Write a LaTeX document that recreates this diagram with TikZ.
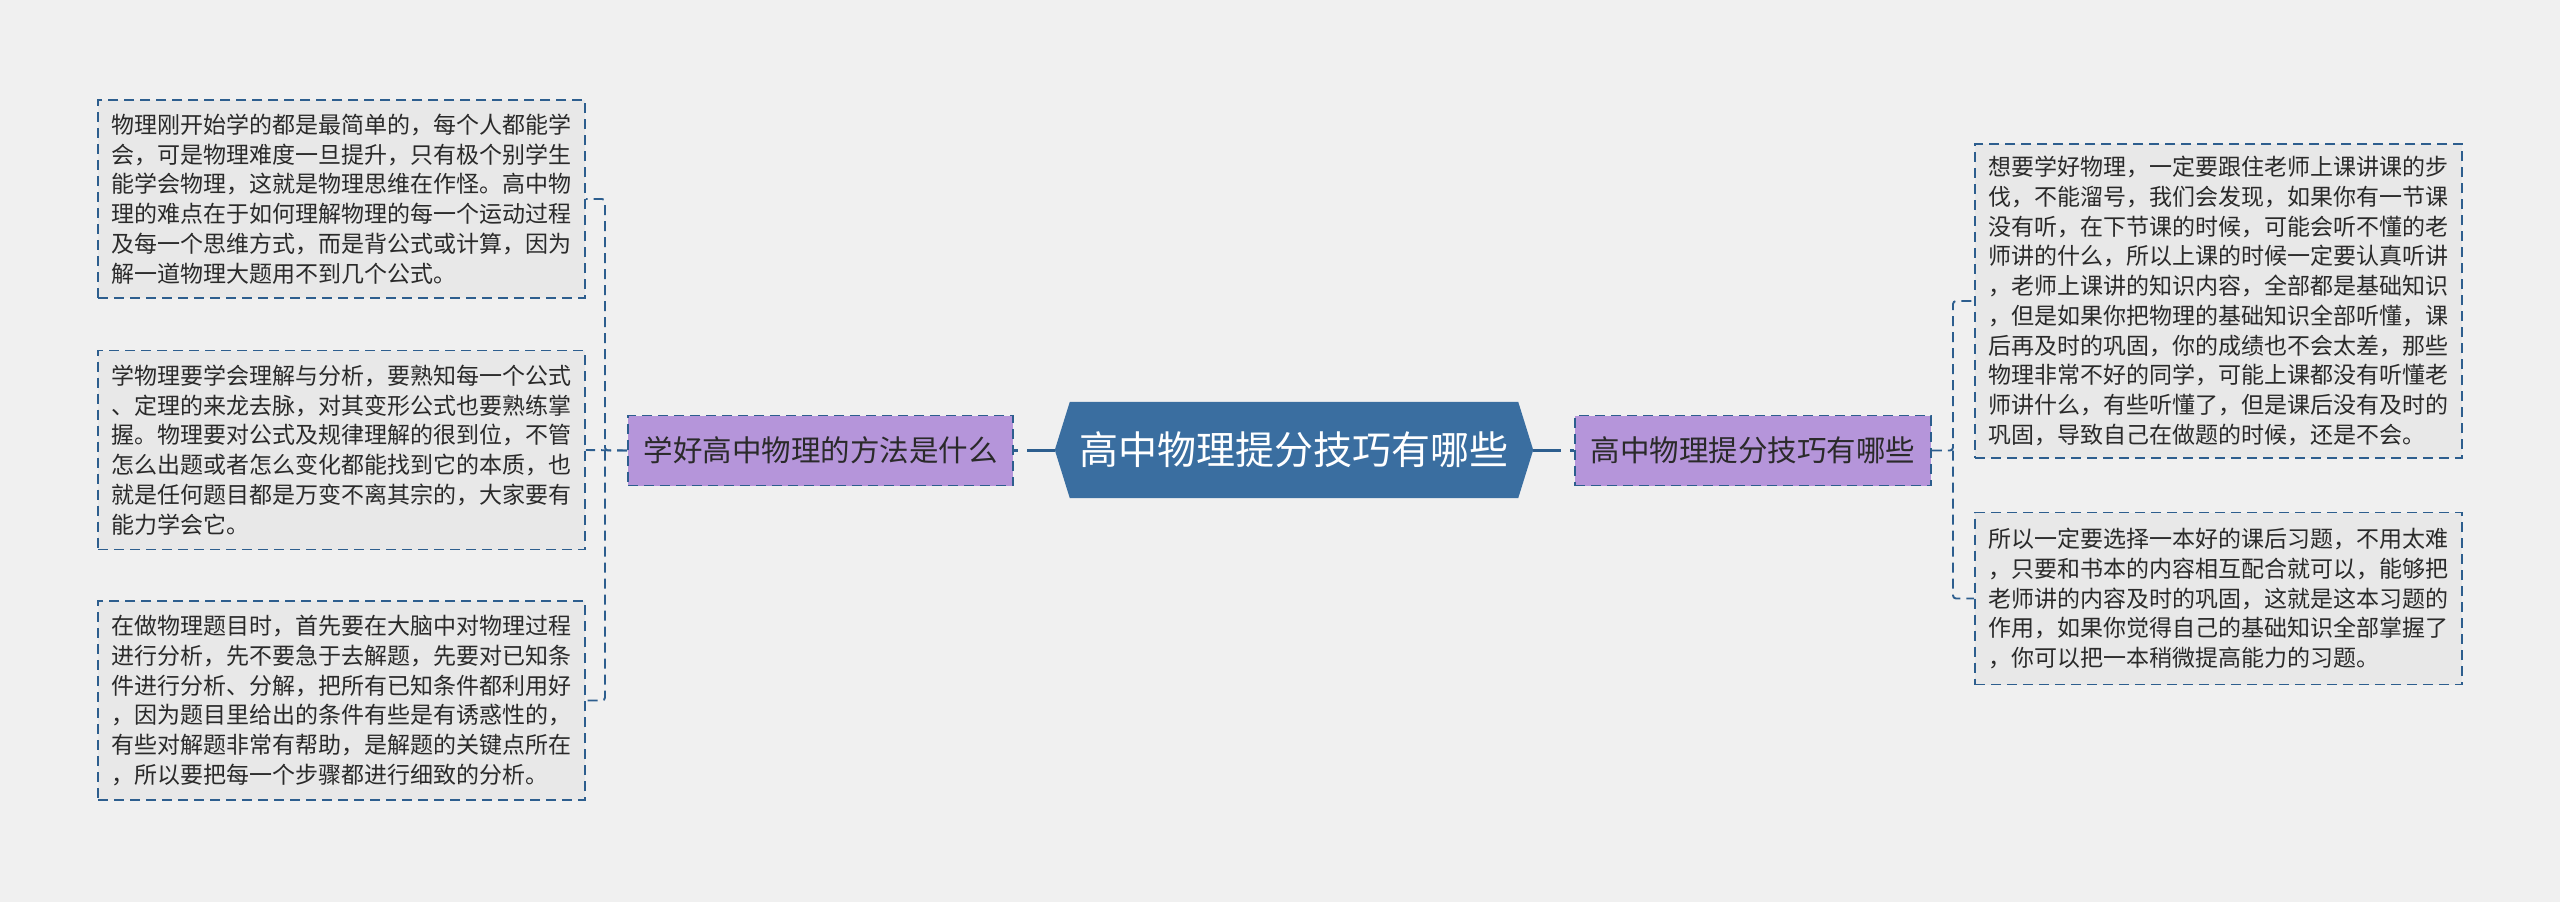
\documentclass[tikz,border=0pt]{standalone}
\usepackage{fontspec}
\newfontfamily\cjk{Noto Sans CJK SC}
\usetikzlibrary{calc,backgrounds}
\definecolor{bgc}{HTML}{F0F0F0}
\definecolor{boxfill}{HTML}{E8E8E8}
\definecolor{linec}{HTML}{2D5E8E}
\definecolor{purp}{HTML}{B595DA}
\definecolor{hexc}{HTML}{3A6EA0}
\definecolor{txt}{HTML}{2A2A2A}
\begin{document}
\begin{tikzpicture}[x=1pt,y=-1pt,
 leaf/.style={draw=linec, line width=1.9pt, dash pattern=on 10pt off 6pt, fill=boxfill, minimum width=487pt, inner sep=0pt, text=txt, align=left, font=\cjk\fontsize{23}{29.7}\selectfont},
 sub/.style={draw=linec, line width=1.9pt, dash pattern=on 10pt off 6pt, fill=purp, minimum height=70pt, inner sep=0pt, text=txt, font=\cjk\fontsize{29.5}{34}\selectfont},
 root/.style={minimum width=448pt, minimum height=96pt, inner sep=0pt, text=white, font=\cjk\fontsize{39}{44}\selectfont},
 conn/.style={draw=linec, line width=1.9pt, dash pattern=on 10pt off 6pt, rounded corners=3pt},
 trunk/.style={draw=linec, line width=3pt, dash pattern=on 28pt off 9pt},
]
\begin{pgfonlayer}{background}
\fill[bgc] (0,0) rectangle (2560,902);
\end{pgfonlayer}
\useasboundingbox (0,0) rectangle (2560,902);

% root
\node[root] (H) at (1294,450) {高中物理提分技巧有哪些};
\coordinate (Hw) at ($(H.west)+(-15,0)$);
\coordinate (He) at ($(H.east)+(15,0)$);
\begin{pgfonlayer}{background}
\fill[hexc] (H.north west) -- (H.north east) -- (He) -- (H.south east) -- (H.south west) -- (Hw) -- cycle;
\end{pgfonlayer}

% subtopics
\node[sub, minimum width=385pt] (P1) at (820.5,450.5) {学好高中物理的方法是什么};
\node[sub, minimum width=356pt] (P2) at (1753,450.5) {高中物理提分技巧有哪些};

% left leaves
\node[leaf, minimum height=198pt] (L1) at (341.5,199) {物理刚开始学的都是最简单的，每个人都能学\\会，可是物理难度一旦提升，只有极个别学生\\能学会物理，这就是物理思维在作怪。高中物\\理的难点在于如何理解物理的每一个运动过程\\及每一个思维方式，而是背公式或计算，因为\\解一道物理大题用不到几个公式。};
\node[leaf, minimum height=199pt] (L2) at (341.5,450) {学物理要学会理解与分析，要熟知每一个公式\\、定理的来龙去脉，对其变形公式也要熟练掌\\握。物理要对公式及规律理解的很到位，不管\\怎么出题或者怎么变化都能找到它的本质，也\\就是任何题目都是万变不离其宗的，大家要有\\能力学会它。};
\node[leaf, minimum height=199pt] (L3) at (341.5,700.5) {在做物理题目时，首先要在大脑中对物理过程\\进行分析，先不要急于去解题，先要对已知条\\件进行分析、分解，把所有已知条件都利用好\\，因为题目里给出的条件有些是有诱惑性的，\\有些对解题非常有帮助，是解题的关键点所在\\，所以要把每一个步骤都进行细致的分析。};

% right leaves
\node[leaf, minimum height=314pt] (R1) at (2218.5,301) {想要学好物理，一定要跟住老师上课讲课的步\\伐，不能溜号，我们会发现，如果你有一节课\\没有听，在下节课的时候，可能会听不懂的老\\师讲的什么，所以上课的时候一定要认真听讲\\，老师上课讲的知识内容，全部都是基础知识\\，但是如果你把物理的基础知识全部听懂，课\\后再及时的巩固，你的成绩也不会太差，那些\\物理非常不好的同学，可能上课都没有听懂老\\师讲什么，有些听懂了，但是课后没有及时的\\巩固，导致自己在做题的时候，还是不会。};
\node[leaf, minimum height=172pt] (R2) at (2218.5,598.5) {所以一定要选择一本好的课后习题，不用太难\\，只要和书本的内容相互配合就可以，能够把\\老师讲的内容及时的巩固，这就是这本习题的\\作用，如果你觉得自己的基础知识全部掌握了\\，你可以把一本稍微提高能力的习题。};

% trunk connectors
\draw[trunk] (Hw) -- (P1.east |- Hw);
\draw[trunk] (He) -- (P2.west |- He);

% left branch connectors
\coordinate (lj) at (605,450.5);
\draw[conn] (P1.west) -- (lj) |- (L1.east);
\draw[conn] (P1.west) -- (L2.east);
\draw[conn] (lj) |- (L3.east);

% right branch connectors
\coordinate (rj) at (1953,450.5);
\draw[conn] (P2.east) -- (rj) |- (R1.west);
\draw[conn] (rj) |- (R2.west);
\end{tikzpicture}
\end{document}
